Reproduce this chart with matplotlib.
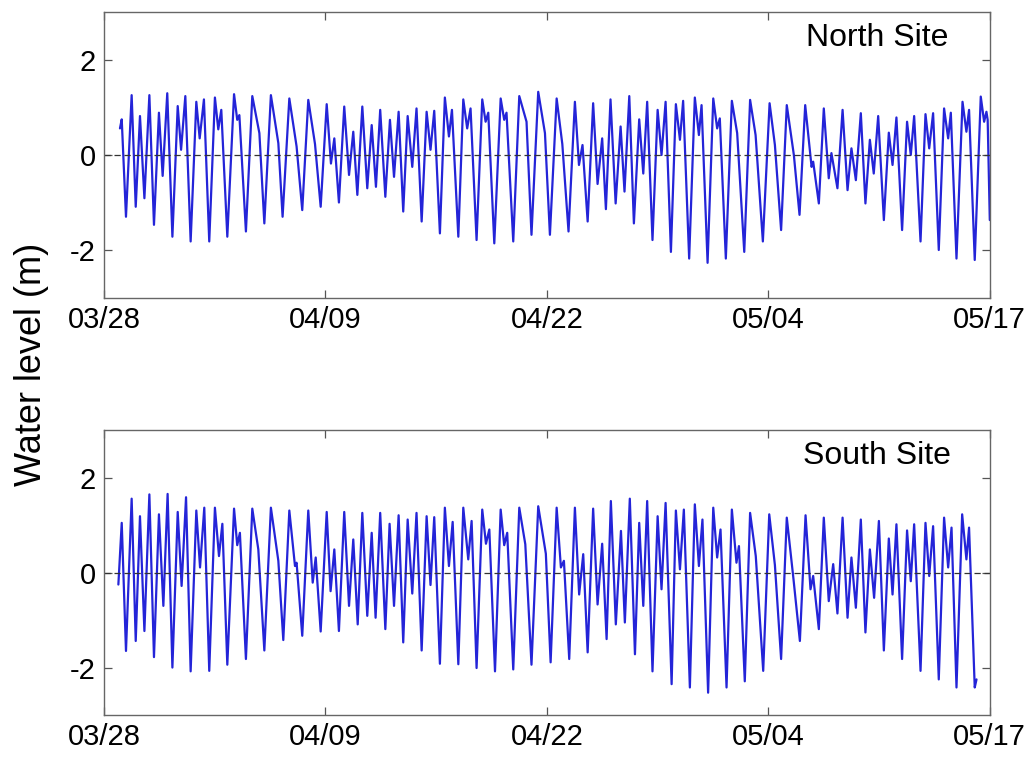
import matplotlib
matplotlib.use("Agg")
import matplotlib.pyplot as plt

plt.rcParams['font.family'] = ['Liberation Sans', 'DejaVu Sans']

# tick positions (days since 03/28) and their date labels
tick_days = [0, 12.5, 25, 37.5, 50]
tick_labels = ['03/28', '04/09', '04/22', '05/04', '05/17']

# North site: time of each turning point (days) and water level (m)
north_t = [0.90, 1.00, 1.24, 1.56, 1.79, 2.03, 2.28, 2.56, 2.82, 3.10, 3.31, 3.57, 3.86, 4.16, 4.35,
           4.59, 4.89, 5.21, 5.40, 5.64, 5.94, 6.26, 6.45, 6.62, 6.96, 7.34, 7.52, 7.64, 8.01, 8.37,
           8.77, 9.05, 9.42, 9.84, 10.08, 10.46, 10.87, 11.19, 11.53, 11.91, 12.23, 12.57, 12.81, 13.00,
           13.26, 13.56, 13.83, 14.07, 14.30, 14.58, 14.86, 15.11, 15.35, 15.59, 15.88, 16.14, 16.37,
           16.63, 16.89, 17.14, 17.40, 17.64, 17.93, 18.21, 18.43, 18.64, 18.96, 19.24, 19.47, 19.64,
           20.00, 20.28, 20.50, 20.69, 21.03, 21.35, 21.54, 21.69, 22.03, 22.39, 22.59, 22.72, 23.10,
           23.44, 23.85, 24.13, 24.51, 24.89, 25.17, 25.55, 25.87, 26.22, 26.58, 26.81, 27.01, 27.30,
           27.61, 27.86, 28.12, 28.33, 28.59, 28.88, 29.16, 29.38, 29.65, 29.91, 30.21, 30.44, 30.66,
           30.96, 31.25, 31.47, 31.70, 32.00, 32.28, 32.51, 32.69, 33.03, 33.35, 33.58, 33.73, 34.07,
           34.39, 34.61, 34.76, 35.10, 35.44, 35.74, 36.14, 36.47, 36.78, 37.19, 37.57, 37.87, 38.22,
           38.54, 38.94, 39.26, 39.58, 39.94, 40.03, 40.35, 40.63, 40.91, 41.06, 41.40, 41.69, 41.97,
           42.19, 42.44, 42.72, 42.98, 43.23, 43.45, 43.70, 44.02, 44.30, 44.51, 44.73, 45.05, 45.33,
           45.54, 45.73, 46.09, 46.37, 46.58, 46.80, 47.12, 47.42, 47.65, 47.80, 48.12, 48.46, 48.68,
           48.83, 49.15, 49.49, 49.68, 49.81, 49.88, 50.00]
north_h = [0.56, 0.75, -1.30, 1.26, -1.09, 0.82, -0.91, 1.26, -1.47, 0.89, -0.44, 1.30, -1.72, 1.03, 0.11,
           1.24, -1.82, 1.12, 0.35, 1.17, -1.82, 1.21, 0.54, 0.95, -1.72, 1.28, 0.74, 0.84, -1.61, 1.24,
           0.46, -1.44, 1.26, 0.25, -1.30, 1.19, 0.18, -1.16, 1.16, 0.23, -1.09, 1.07, -0.18, 0.35,
           -1.00, 1.02, -0.42, 0.49, -0.84, 1.02, -0.70, 0.63, -0.67, 0.95, -0.88, 0.74, -0.46,
           0.91, -1.19, 0.82, -0.25, 0.98, -1.40, 0.91, 0.11, 0.93, -1.65, 1.21, 0.39, 0.95,
           -1.72, 1.17, 0.56, 0.98, -1.79, 1.17, 0.70, 0.89, -1.86, 1.19, 0.74, 0.89, -1.82,
           1.24, 0.70, -1.68, 1.33, 0.46, -1.68, 1.19, 0.23, -1.61, 1.12, -0.21, 0.21, -1.40,
           1.09, -0.61, 0.35, -1.14, 1.17, -1.02, 0.60, -0.77, 1.24, -1.44, 0.75, -0.39, 1.12,
           -1.79, 0.95, 0.00, 1.12, -2.04, 1.07, 0.32, 1.14, -2.18, 1.21, 0.42, 1.05, -2.27,
           1.19, 0.56, 0.77, -2.18, 1.14, 0.46, -2.04, 1.16, 0.42, -1.82, 1.09, 0.21, -1.58,
           1.05, 0.00, -1.26, 1.05, -0.25, -0.14, -1.02, 0.98, -0.49, 0.04, -0.70, 0.95, -0.74,
           0.14, -0.53, 0.88, -1.02, 0.32, -0.39, 0.82, -1.37, 0.47, -0.21, 0.79, -1.58, 0.70,
           0.00, 0.82, -1.82, 0.86, 0.14, 0.88, -2.00, 0.98, 0.35, 0.89, -2.18, 1.12, 0.49,
           0.95, -2.21, 1.23, 0.70, 0.91, 0.74, -1.37]

# South site
south_t = [0.81, 1.00, 1.24, 1.56, 1.79, 2.03, 2.28, 2.56, 2.82, 3.10, 3.35, 3.59, 3.86, 4.16, 4.38,
           4.63, 4.89, 5.21, 5.42, 5.66, 5.94, 6.26, 6.49, 6.68, 6.96, 7.34, 7.52, 7.67, 8.01, 8.37,
           8.71, 9.05, 9.42, 9.84, 10.12, 10.46, 10.78, 10.87, 11.19, 11.53, 11.78, 11.95, 12.23, 12.57,
           12.79, 13.00, 13.26, 13.56, 13.83, 14.07, 14.32, 14.58, 14.86, 15.11, 15.33, 15.59, 15.88,
           16.12, 16.37, 16.63, 16.89, 17.14, 17.40, 17.64, 17.93, 18.21, 18.43, 18.64, 18.96, 19.24,
           19.47, 19.68, 20.00, 20.28, 20.56, 20.75, 21.03, 21.35, 21.56, 21.75, 22.07, 22.39, 22.59,
           22.76, 23.10, 23.44, 23.78, 24.13, 24.51, 24.94, 25.21, 25.55, 25.79, 25.96, 26.26, 26.58,
           26.82, 27.05, 27.30, 27.61, 27.86, 28.12, 28.37, 28.61, 28.89, 29.18, 29.40, 29.68, 29.97,
           30.21, 30.44, 30.66, 30.96, 31.25, 31.47, 31.70, 32.04, 32.28, 32.51, 32.73, 33.07, 33.35,
           33.58, 33.78, 34.10, 34.39, 34.61, 34.80, 35.14, 35.44, 35.70, 35.84, 36.17, 36.47, 36.79,
           37.21, 37.55, 37.87, 38.22, 38.54, 38.92, 39.28, 39.60, 39.88, 40.03, 40.35, 40.63, 40.91,
           41.16, 41.40, 41.69, 41.97, 42.19, 42.44, 42.72, 42.98, 43.23, 43.47, 43.74, 44.02, 44.30,
           44.51, 44.73, 45.05, 45.33, 45.54, 45.73, 46.09, 46.37, 46.58, 46.80, 47.12, 47.42, 47.65,
           47.84, 48.12, 48.44, 48.68, 48.83, 49.15, 49.25]
south_h = [-0.25, 1.05, -1.65, 1.56, -1.44, 1.19, -1.23, 1.65, -1.78, 1.23, -0.70, 1.66, -2.00, 1.28, -0.28,
           1.59, -2.08, 1.31, 0.11, 1.37, -2.07, 1.37, 0.35, 1.03, -1.94, 1.35, 0.58, 0.84, -1.82, 1.35,
           0.49, -1.64, 1.37, 0.25, -1.42, 1.31, 0.14, 0.21, -1.33, 1.31, -0.21, 0.32, -1.24, 1.28,
           -0.39, 0.49, -1.23, 1.28, -0.70, 0.70, -1.09, 1.26, -0.91, 0.84, -0.95, 1.26, -1.19,
           1.03, -0.70, 1.21, -1.47, 1.12, -0.44, 1.26, -1.64, 1.19, -0.26, 1.17, -1.92, 1.37,
           0.14, 1.07, -1.93, 1.37, 0.28, 1.09, -2.01, 1.33, 0.61, 0.91, -2.08, 1.33, 0.58,
           0.84, -2.04, 1.37, 0.60, -1.94, 1.40, 0.40, -1.89, 1.37, 0.11, 0.25, -1.82, 1.37,
           -0.46, 0.39, -1.68, 1.35, -0.67, 0.61, -1.40, 1.51, -1.09, 0.88, -1.05, 1.56, -1.72,
           1.05, -0.70, 1.51, -2.08, 1.19, -0.35, 1.47, -2.35, 1.31, 0.07, 1.33, -2.42, 1.44,
           0.14, 1.12, -2.53, 1.37, 0.32, 0.91, -2.42, 1.33, 0.21, 0.56, -2.29, 1.26, 0.35,
           -2.07, 1.23, 0.16, -1.82, 1.16, -0.14, -1.44, 1.21, -0.35, -0.07, -1.19, 1.16, -0.60,
           0.18, -0.86, 1.16, -0.95, 0.32, -0.74, 1.12, -1.26, 0.49, -0.53, 1.09, -1.64, 0.72,
           -0.46, 1.02, -1.82, 0.89, -0.18, 1.02, -2.07, 1.05, -0.07, 0.98, -2.25, 1.16, 0.11,
           0.95, -2.42, 1.23, 0.28, 0.95, -2.42, -2.25]

sites = [('North Site', north_t, north_h), ('South Site', south_t, south_h)]
axes_rects = [[0.1004, 0.607, 0.855, 0.3765], [0.1004, 0.0555, 0.855, 0.376]]

fig = plt.figure(figsize=(10.36, 7.57), dpi=100)

for (name, t, h), rect in zip(sites, axes_rects):
    ax = fig.add_axes(rect)
    ax.plot(t, h, color='#2424d8', linewidth=1.6,
            solid_joinstyle='round', solid_capstyle='round')
    ax.axhline(0, color='#333333', linestyle='--', linewidth=0.9, dashes=(5, 3))
    ax.set_xlim(0, 50)
    ax.set_ylim(-3, 3)
    ax.set_yticks([-2, 0, 2])
    ax.set_yticklabels(['-2', '0', '2'])
    ax.set_xticks(tick_days)
    ax.set_xticklabels(tick_labels)
    ax.tick_params(direction='in', length=6, width=0.9, color='#555555',
                   labelsize=21, top=True, right=True, pad=6)
    for sp in ax.spines.values():
        sp.set_color('#666666')
        sp.set_linewidth(1.0)
    ax.text(0.873, 0.91, name, transform=ax.transAxes, fontsize=23,
            ha='center', va='center')

fig.text(0.03, 0.518, 'Water level (m)', rotation=90, fontsize=26,
         ha='center', va='center')

fig.savefig('out.png', dpi=100)
